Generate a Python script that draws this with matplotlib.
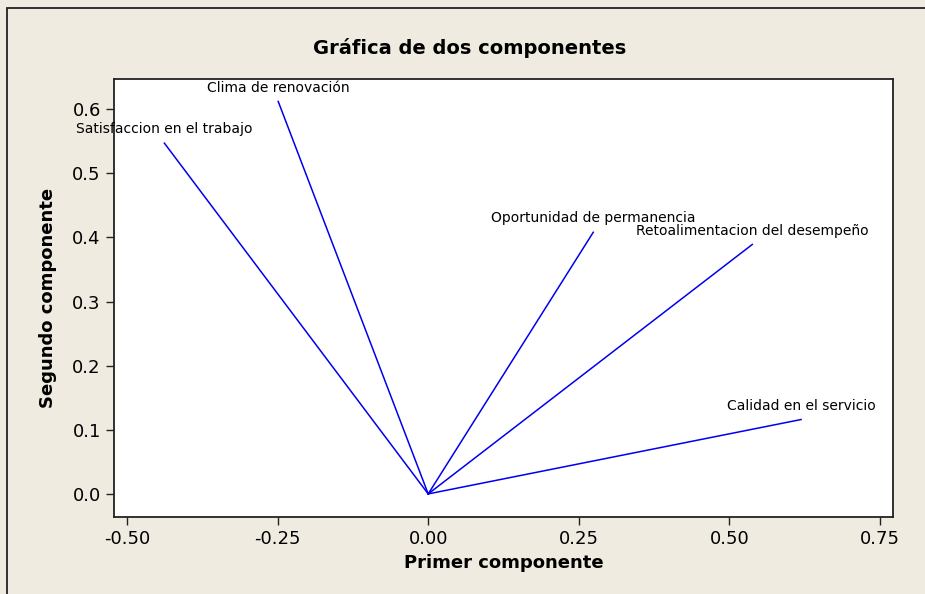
import matplotlib.pyplot as plt
from matplotlib.patches import Rectangle

# loadings of each variable on the first two components
variables = ["Clima de renovación", "Satisfaccion en el trabajo",
             "Oportunidad de permanencia", "Retoalimentacion del desempeño",
             "Calidad en el servicio"]
primer = [-0.249, -0.438, 0.274, 0.538, 0.619]
segundo = [0.612, 0.547, 0.408, 0.389, 0.116]

xticks = [-0.50, -0.25, 0.00, 0.25, 0.50, 0.75]
yticks = [0.0, 0.1, 0.2, 0.3, 0.4, 0.5, 0.6]

bg = "#EFEBE1"
W, H = 925, 594
fig = plt.figure(figsize=(W / 100, H / 100), dpi=100, facecolor=bg)

# outer frame (only top/left edges fall inside the image)
fig.patches.append(Rectangle((7 / W, -0.1), 1.2, 1 - 8 / H + 0.1, transform=fig.transFigure,
                             fill=False, edgecolor="#222222", linewidth=1.3))

ax = fig.add_axes([114 / W, 1 - 517 / H, (893 - 114) / W, (517 - 79) / H])
ax.set_facecolor("white")

for name, x, y in zip(variables, primer, segundo):
    ax.plot([0, x], [0, y], color="#0000EE", linewidth=1.1)
    ax.annotate(name, (x, y), xytext=(0, 5), textcoords="offset points",
                ha="center", va="bottom", fontsize=10)

ax.set_xlim(-0.5216, 0.7716)
ax.set_ylim(-0.036, 0.647)
ax.set_xticks(xticks)
ax.set_xticklabels([f"{t:.2f}" for t in xticks])
ax.set_yticks(yticks)
ax.set_yticklabels([f"{t:.1f}" for t in yticks])
ax.tick_params(direction="out", length=6, width=1, labelsize=13, color="#222222")
for s in ax.spines.values():
    s.set_linewidth(1.3)
    s.set_color("#222222")

ax.set_xlabel("Primer componente", fontsize=13, fontweight="bold", labelpad=4)
ax.set_ylabel("Segundo componente", fontsize=13, fontweight="bold", labelpad=11)
fig.text(470 / W, 1 - 48 / H, "Gráfica de dos componentes", ha="center", va="center",
         fontsize=14, fontweight="bold")

fig.savefig("out.png", dpi=100, facecolor=bg)
